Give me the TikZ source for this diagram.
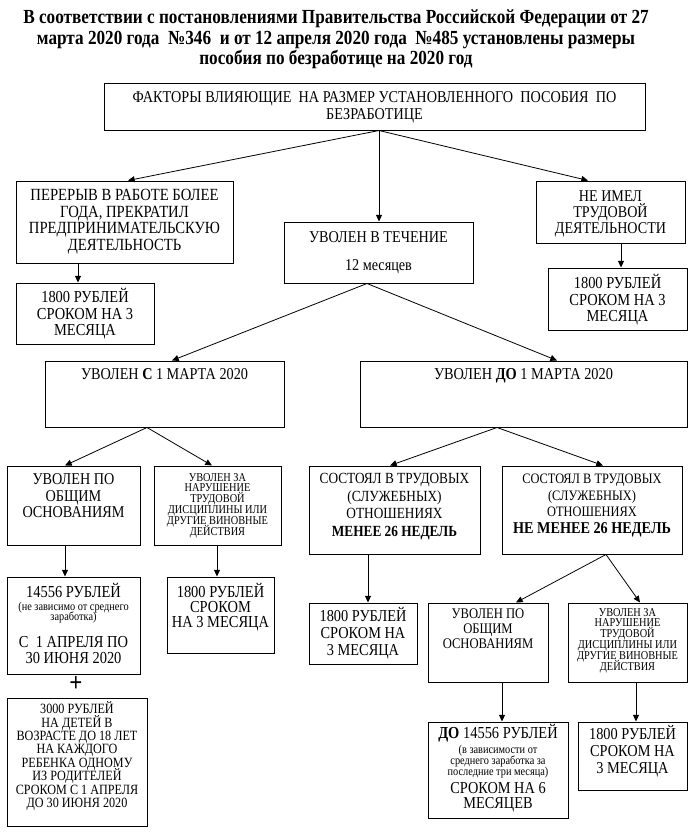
\documentclass[tikz,border=0pt]{standalone}
\usepackage{fontspec}
\setmainfont[FakeStretch=0.86]{Liberation Serif}
\usetikzlibrary{arrows.meta,fit,calc}
\newcommand\fs[2]{\fontsize{#1}{#2}\selectfont\lineskiplimit=-100pt\relax}
\newcommand\mkbox[5]{%
  \coordinate (#1-a) at (#2,#3);
  \coordinate (#1-b) at (#4,#5);
  \node[box,fit=(#1-a)(#1-b)] (#1) {};}
\begin{document}
\begin{tikzpicture}[x=0.75pt,y=-0.75pt,
  box/.style={draw,line width=0.75pt,inner sep=0pt},
  txt/.style={inner sep=0pt,align=center,anchor=base},
  main/.style={txt,font=\fs{12.6}{12.4}},
  small/.style={txt,font=\fs{9}{8.1}},
  arr/.style={-{Triangle[length=5pt,width=4.5pt]},line width=0.6pt}]
\useasboundingbox (0,0) rectangle (694,835);

% title (anchor = baseline of last line)
\node[txt,font=\bfseries\fs{15}{15.4}] (title) at (336,64.6)
 {В соответствии с постановлениями Правительства Российской Федерации от 27\\
  марта 2020 года\ \ №346\ \ и от 12 апреля 2020 года\ \ №485 установлены размеры\\
  пособия по безработице на 2020 год};

% boxes
\mkbox{top}{104}{83}{645}{130}
\mkbox{per}{16}{181}{233}{263}
\mkbox{lA}{16}{283}{154}{344}
\mkbox{tech}{284}{222}{473}{283}
\mkbox{neim}{536}{181}{685}{243}
\mkbox{rA}{548}{268}{687}{330}
\mkbox{uvs}{45}{361}{284}{427}
\mkbox{uvdo}{360}{361}{687}{427}
\mkbox{obl}{7}{466}{140}{545}
\mkbox{vinl}{154}{466}{281}{545}
\mkbox{bA}{7}{577}{140}{674}
\mkbox{mA}{167}{577}{274}{653}
\mkbox{bB}{7}{698}{147}{826}
\mkbox{sostl}{309}{466}{480}{554}
\mkbox{sostr}{502}{466}{682}{554}
\mkbox{rB}{309}{603}{417}{664}
\mkbox{obr}{428}{603}{548}{682}
\mkbox{vinr}{568}{603}{687}{682}
\mkbox{doA}{428}{722}{568}{818}
\mkbox{rC}{578}{722}{687}{790}

% texts (each placed at the baseline of its last line)
\node[main,font=\fs{12.4}{12.75}] (t-top) at (374.5,119.5)
 {ФАКТОРЫ ВЛИЯЮЩИЕ\ \ НА РАЗМЕР УСТАНОВЛЕННОГО\ \ ПОСОБИЯ\ \ ПО\\БЕЗРАБОТИЦЕ};
\node[main,font=\fs{12.8}{12.5}] (t-per) at (124.5,250.5)
 {ПЕРЕРЫВ В РАБОТЕ БОЛЕЕ\\ГОДА, ПРЕКРАТИЛ\\ПРЕДПРИНИМАТЕЛЬСКУЮ\\ДЕЯТЕЛЬНОСТЬ};
\node[main] (t-lA) at (85,335.6) {1800 РУБЛЕЙ\\СРОКОМ НА 3\\МЕСЯЦА};
\node[main,font=\fs{12.4}{12.75}] (t-tech1) at (378.5,242) {УВОЛЕН В ТЕЧЕНИЕ};
\node[main,font=\fs{12.4}{12.75}] (t-tech2) at (378.5,270) {12 месяцев};
\node[main,font=\fs{12.3}{12}] (t-neim) at (610.5,233.5) {НЕ ИМЕЛ\\ТРУДОВОЙ\\ДЕЯТЕЛЬНОСТИ};
\node[main] (t-rA) at (617.5,321.6) {1800 РУБЛЕЙ\\СРОКОМ НА 3\\МЕСЯЦА};
\node[main,font=\fs{12.4}{12}] (t-uvs) at (164.5,379.5) {УВОЛЕН \textbf{С} 1 МАРТА 2020};
\node[main,font=\fs{12.5}{12}] (t-uvdo) at (523.5,379.5) {УВОЛЕН \textbf{ДО} 1 МАРТА 2020};
\node[main,font=\fs{12.4}{12.4}] (t-obl) at (73.5,517.6) {УВОЛЕН ПО\\ОБЩИМ\\ОСНОВАНИЯМ};
\node[small] (t-vinl) at (217.5,535) {УВОЛЕН ЗА\\НАРУШЕНИЕ\\ТРУДОВОЙ\\ДИСЦИПЛИНЫ ИЛИ\\ДРУГИЕ ВИНОВНЫЕ\\ДЕЙСТВИЯ};
\node[main] (t-bA1) at (73.5,597.5) {14556 РУБЛЕЙ};
\node[small,font=\fs{9}{7.5}] (t-bA2) at (73.5,620) {(не зависимо от среднего\\заработка)};
\node[main,font=\fs{12.6}{12}] (t-bA3) at (73.5,663.5) {С\ \ 1 АПРЕЛЯ ПО\\30 ИЮНЯ 2020};
\node[main,font=\fs{12.6}{11.25}] (t-mA) at (220.5,627.5) {1800 РУБЛЕЙ\\СРОКОМ\\НА 3 МЕСЯЦА};
\node[inner sep=0pt,font=\bfseries\fs{20}{20}] (plus) at (76,684) {+};
\node[txt,font=\fs{10.6}{10.1}] (t-bB) at (77,807.8)
 {3000 РУБЛЕЙ\\НА ДЕТЕЙ В\\ВОЗРАСТЕ ДО 18 ЛЕТ\\НА КАЖДОГО\\РЕБЕНКА ОДНОМУ\\ИЗ РОДИТЕЛЕЙ\\СРОКОМ С 1 АПРЕЛЯ\\ДО 30 ИЮНЯ 2020};
\node[main,font=\fs{11.6}{13.2}] (t-sostl) at (394.5,536.3)
 {СОСТОЯЛ В ТРУДОВЫХ\\(СЛУЖЕБНЫХ)\\ОТНОШЕНИЯХ\\\textbf{МЕНЕЕ 26 НЕДЕЛЬ}};
\node[main,font=\fs{10.8}{12.5}] (t-sostr1) at (592,516.8)
 {СОСТОЯЛ В ТРУДОВЫХ\\(СЛУЖЕБНЫХ)\\ОТНОШЕНИЯХ};
\node[main,font=\bfseries\fs{12.4}{12}] (t-sostr2) at (592,533) {НЕ МЕНЕЕ 26 НЕДЕЛЬ};
\node[main,font=\fs{12.5}{12.75}] (t-rB) at (363,655.5) {1800 РУБЛЕЙ\\СРОКОМ НА\\3 МЕСЯЦА};
\node[main,font=\fs{11}{11.25}] (t-obr) at (488,648) {УВОЛЕН ПО\\ОБЩИМ\\ОСНОВАНИЯМ};
\node[small] (t-vinr) at (627.5,670) {УВОЛЕН ЗА\\НАРУШЕНИЕ\\ТРУДОВОЙ\\ДИСЦИПЛИНЫ ИЛИ\\ДРУГИЕ ВИНОВНЫЕ\\ДЕЙСТВИЯ};
\node[main] (t-doA1) at (498,738.5) {\textbf{ДО} 14556 РУБЛЕЙ};
\node[small,font=\fs{9}{8.25}] (t-doA2) at (498,775) {(в зависимости от\\среднего заработка за\\последние три месяца)};
\node[main,font=\fs{12.5}{11.25}] (t-doA3) at (498,808) {СРОКОМ НА 6\\МЕСЯЦЕВ};
\node[main,font=\fs{12.5}{12.75}] (t-rC) at (632.5,773.5) {1800 РУБЛЕЙ\\СРОКОМ НА\\3 МЕСЯЦА};

% connectors
\draw[arr] ($(top.south)+(4.5,0)$) -- ($(per.north)+(3.5,0)$);
\draw[arr] ($(top.south)+(4.5,0)$) -- ($(tech.north)+(0.5,0)$);
\draw[arr] ($(top.south)+(4.5,0)$) -- ($(neim.north)+(-22.5,0)$);
\draw[arr] ($(per.south)+(-46.5,0)$) -- ($(lA.north)+(-7,0)$);
\draw[arr] ($(neim.south)+(10.5,0)$) -- ($(rA.north)+(3.5,0)$);
\draw[arr] ($(tech.south)+(-11.5,0)$) -- ($(uvs.north)+(7.5,0)$);
\draw[arr] ($(tech.south)+(-11.5,0)$) -- ($(uvdo.north)+(33.5,0)$);
\draw[arr] ($(uvs.south)+(-17.5,0)$) -- ($(obl.north)+(-8.5,0)$);
\draw[arr] ($(uvs.south)+(-17.5,0)$) -- ($(vinl.north)+(-5.5,0)$);
\draw[arr] ($(obl.south)+(-8.5,0)$) -- ($(bA.north)+(-8.5,0)$);
\draw[arr] ($(vinl.south)+(-0.5,0)$) -- ($(mA.north)+(-3.5,0)$);
\draw[arr] ($(uvdo.south)+(-26.5,0)$) -- ($(sostl.north)+(-4.5,0)$);
\draw[arr] ($(uvdo.south)+(-26.5,0)$) -- ($(sostr.north)+(11,0)$);
\draw[arr] ($(sostl.south)+(-26.5,0)$) -- ($(rB.north)+(5,0)$);
\draw[arr] ($(sostr.south)+(14,0)$) -- ($(obr.north)+(28,0)$);
\draw[arr] ($(sostr.south)+(14,0)$) -- ($(vinr.north)+(12.5,0)$);
\draw[arr] ($(obr.south)+(14,0)$) -- ($(doA.north)+(4,0)$);
\draw[arr] ($(vinr.south)+(8.5,0)$) -- ($(rC.north)+(3.5,0)$);
\end{tikzpicture}
\end{document}
